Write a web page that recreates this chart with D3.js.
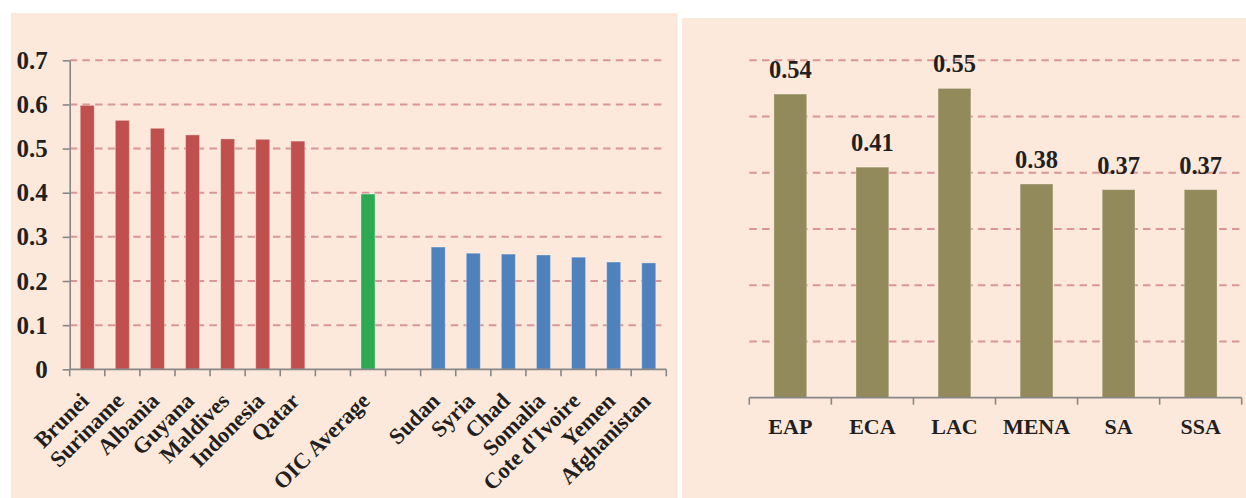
<!DOCTYPE html>
<html>
<head>
<meta charset="utf-8">
<script src="https://cdn.jsdelivr.net/npm/d3@7"></script>
<style>
  html, body { margin: 0; padding: 0; background: #ffffff; }
  svg { display: block; }
  text { font-family: "Liberation Serif", "DejaVu Serif", serif; font-weight: bold; fill: #231f20; }
</style>
</head>
<body>
<svg id="chart" width="1246" height="498"></svg>
<script>
// Left panel: top countries, OIC average, bottom countries
const topCountries = ["Brunei", "Suriname", "Albania", "Guyana", "Maldives", "Indonesia", "Qatar"];
const topValues = [0.598, 0.564, 0.546, 0.531, 0.522, 0.521, 0.517];
const averageLabel = "OIC Average";
const averageValue = 0.397;
const bottomCountries = ["Sudan", "Syria", "Chad", "Somalia", "Cote d'Ivoire", "Yemen", "Afghanistan"];
const bottomValues = [0.277, 0.263, 0.261, 0.259, 0.254, 0.243, 0.241];
const leftTicks = [0, 0.1, 0.2, 0.3, 0.4, 0.5, 0.6, 0.7];

// Right panel: regional averages
const regions = ["EAP", "ECA", "LAC", "MENA", "SA", "SSA"];
const regionValues = [0.54, 0.41, 0.55, 0.38, 0.37, 0.37];
const rightTicks = [0.1, 0.2, 0.3, 0.4, 0.5, 0.6];

const colors = { top: "#c0504d", avg: "#2baa53", bottom: "#4f81bd", region: "#928a5a" };
const panelFill = "#fce9db";
const gridColor = "#d99694";
const axisColor = "#878787";

const svg = d3.select("#chart");

// Panel backgrounds
svg.append("rect").attr("x", 11).attr("y", 13).attr("width", 666.7).attr("height", 485).attr("fill", panelFill);
svg.append("rect").attr("x", 682).attr("y", 18).attr("width", 564).attr("height", 480).attr("fill", panelFill);

// ---------- Left chart ----------
const gapA = "\u0000a", gapB = "\u0000b";
const leftRows = [
  ...topCountries.map((c, i) => ({ key: c, value: topValues[i], color: colors.top })),
  { key: gapA, value: null },
  { key: averageLabel, value: averageValue, color: colors.avg },
  { key: gapB, value: null },
  ...bottomCountries.map((c, i) => ({ key: c, value: bottomValues[i], color: colors.bottom }))
];

const xL = d3.scaleBand().domain(leftRows.map(d => d.key)).range([69.7, 666.3])
  .paddingInner(0.6).paddingOuter(0.3);
const yL = d3.scaleLinear().domain([0, 0.7]).range([369.3, 60.3]);

const left = svg.append("g");

// dashed gridlines
left.append("g").selectAll("line").data(leftTicks.filter(t => t > 0)).join("line")
  .attr("x1", 69.7).attr("x2", 666.3)
  .attr("y1", d => yL(d)).attr("y2", d => yL(d))
  .attr("stroke", gridColor).attr("stroke-width", 2).attr("stroke-dasharray", "7.5 5.2");

// bars
left.append("g").selectAll("rect").data(leftRows.filter(d => d.value != null)).join("rect")
  .attr("x", d => xL(d.key)).attr("width", xL.bandwidth())
  .attr("y", d => yL(d.value)).attr("height", d => yL(0) - yL(d.value))
  .attr("fill", d => d.color)
  .attr("stroke", "#ffffff").attr("stroke-opacity", 0.35).attr("stroke-width", 1);

// y axis
const yAxisL = d3.axisLeft(yL).tickValues(leftTicks)
  .tickFormat(d => d === 0 ? "0" : d3.format(".1f")(d))
  .tickSize(7).tickPadding(15).tickSizeOuter(0);
const gy = left.append("g").attr("transform", "translate(69.7,0)").call(yAxisL);
gy.select(".domain").attr("stroke", axisColor).attr("stroke-width", 1.6);
gy.selectAll(".tick line").attr("stroke", axisColor).attr("stroke-width", 1.6);
gy.selectAll(".tick text").attr("font-size", 25).attr("font-family", null).attr("fill", "#231f20");

// x axis line and boundary ticks
const stepL = xL.step();
const boundsL = d3.range(leftRows.length + 1).map(i => xL.range()[0] + i * stepL);
left.append("line").attr("x1", 69.7).attr("x2", 666.3).attr("y1", yL(0)).attr("y2", yL(0))
  .attr("stroke", axisColor).attr("stroke-width", 1.8);
left.append("g").selectAll("line").data(boundsL).join("line")
  .attr("x1", d => d).attr("x2", d => d).attr("y1", yL(0)).attr("y2", yL(0) + 7)
  .attr("stroke", axisColor).attr("stroke-width", 1.6);

// rotated category labels
left.append("g").selectAll("text").data(leftRows.filter(d => d.value != null)).join("text")
  .attr("transform", d => `translate(${xL(d.key) + xL.bandwidth() / 2 + 3},${yL(0) + 33}) rotate(-45)`)
  .attr("text-anchor", "end").attr("font-size", 22.5)
  .text(d => d.key);

// ---------- Right chart ----------
const xR = d3.scaleBand().domain(regions).range([749.3, 1241.7]).paddingInner(0.6).paddingOuter(0.3);
const yR = d3.scaleLinear().domain([0, 0.6]).range([397.7, 60.3]);

const right = svg.append("g");

right.append("g").selectAll("line").data(rightTicks).join("line")
  .attr("x1", 749.3).attr("x2", 1241.7)
  .attr("y1", d => yR(d)).attr("y2", d => yR(d))
  .attr("stroke", gridColor).attr("stroke-width", 2).attr("stroke-dasharray", "7.5 5.2");

right.append("g").selectAll("rect").data(regions).join("rect")
  .attr("x", d => xR(d)).attr("width", xR.bandwidth())
  .attr("y", (d, i) => yR(regionValues[i])).attr("height", (d, i) => yR(0) - yR(regionValues[i]))
  .attr("fill", colors.region)
  .attr("stroke", "#ffffff").attr("stroke-opacity", 0.3).attr("stroke-width", 1);

// value labels
right.append("g").selectAll("text").data(regions).join("text")
  .attr("x", d => xR(d) + xR.bandwidth() / 2)
  .attr("y", (d, i) => yR(regionValues[i]) - 16)
  .attr("text-anchor", "middle").attr("font-size", 24.5)
  .text((d, i) => d3.format(".2f")(regionValues[i]));

// x axis
const stepR = xR.step();
const boundsR = d3.range(regions.length + 1).map(i => xR.range()[0] + i * stepR);
right.append("line").attr("x1", 749.3).attr("x2", 1241.7).attr("y1", yR(0)).attr("y2", yR(0))
  .attr("stroke", axisColor).attr("stroke-width", 1.8);
right.append("g").selectAll("line").data(boundsR).join("line")
  .attr("x1", d => d).attr("x2", d => d).attr("y1", yR(0)).attr("y2", yR(0) + 7)
  .attr("stroke", axisColor).attr("stroke-width", 1.6);

right.append("g").selectAll("text").data(regions).join("text")
  .attr("x", d => xR(d) + xR.bandwidth() / 2)
  .attr("y", yR(0) + 36.6)
  .attr("text-anchor", "middle").attr("font-size", 22)
  .text(d => d);
</script>
</body>
</html>
